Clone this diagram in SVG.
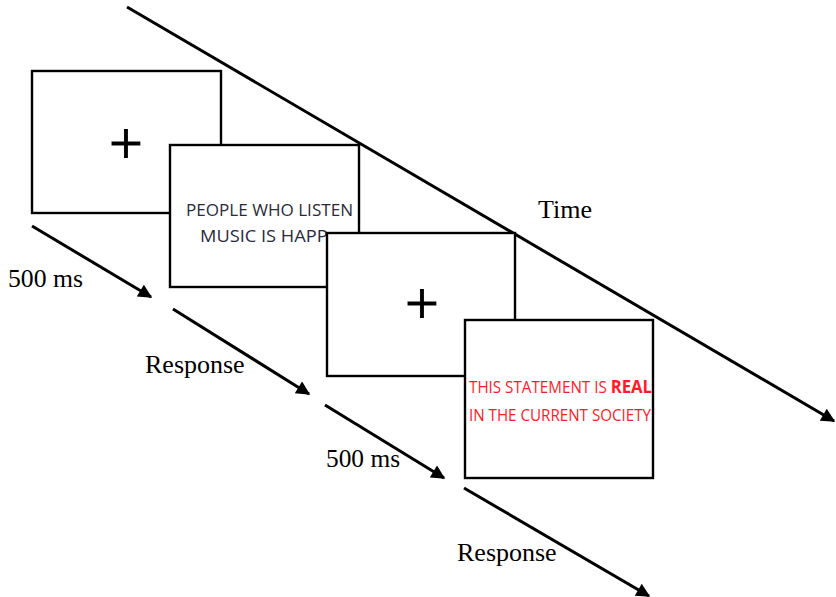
<svg xmlns="http://www.w3.org/2000/svg" width="836" height="597" viewBox="0 0 836 597">
  <style>
    .frame { fill: #ffffff; stroke: #000000; stroke-width: 2.4; }
    .flow { fill: none; stroke: #000000; stroke-width: 3; }
    .label { font-family: "Liberation Serif", "Times New Roman", serif; font-size: 26px; fill: #000000; }
    .cross { font-family: "Liberation Serif", "Times New Roman", serif; font-size: 60px; fill: #000000; stroke: #000000; stroke-width: 0.9; text-anchor: middle; }
    .stim { font-family: "Open Sans", "Liberation Sans", sans-serif; font-size: 16px; fill: #2a2a3a; }
    .stim-red { font-family: "Open Sans", "Liberation Sans", sans-serif; font-size: 15.5px; fill: #ff1a2a; }
  </style>
  <defs>
    <marker id="head" viewBox="0 0 10 10" refX="9" refY="5" markerWidth="5.5" markerHeight="4.6" orient="auto" markerUnits="strokeWidth">
      <path d="M0,0 L10,5 L0,10 z" fill="#000000"/>
    </marker>
    <!-- text area of the statement screen ends where the next screen starts -->
    <clipPath id="statementText">
      <rect x="171" y="146" width="156" height="140"/>
    </clipPath>
  </defs>

  <!-- time axis and step arrows -->
  <g id="connectors">
    <line class="flow" x1="127" y1="7" x2="834" y2="421" marker-end="url(#head)"/>
    <line class="flow" x1="32" y1="226" x2="151" y2="297" marker-end="url(#head)"/>
    <line class="flow" x1="173" y1="309" x2="309" y2="394" marker-end="url(#head)"/>
    <line class="flow" x1="325" y1="405" x2="444" y2="478" marker-end="url(#head)"/>
    <line class="flow" x1="464" y1="488" x2="649" y2="596" marker-end="url(#head)"/>
  </g>

  <!-- fixation screen -->
  <g id="fixation1">
    <rect class="frame" x="32" y="71" width="189" height="142"/>
    <text class="cross" x="126" y="163">+</text>
  </g>

  <!-- statement screen -->
  <g id="statement">
    <rect class="frame" x="170" y="145" width="189" height="142"/>
    <text class="stim" x="186" y="216" textLength="167" lengthAdjust="spacingAndGlyphs">PEOPLE WHO LISTEN</text>
    <text class="stim" x="200" y="242" textLength="138" lengthAdjust="spacingAndGlyphs" clip-path="url(#statementText)">MUSIC IS HAPPY</text>
  </g>

  <!-- second fixation screen -->
  <g id="fixation2">
    <rect class="frame" x="327" y="233" width="188" height="143"/>
    <text class="cross" x="422" y="323">+</text>
  </g>

  <!-- judgement screen -->
  <g id="judgement">
    <rect class="frame" x="465" y="320" width="188" height="158"/>
    <text class="stim-red" x="469" y="393" textLength="183" lengthAdjust="spacingAndGlyphs">THIS STATEMENT IS <tspan font-weight="bold" font-size="17px">REAL</tspan></text>
    <text class="stim-red" x="469" y="421" textLength="182" lengthAdjust="spacingAndGlyphs">IN THE CURRENT SOCIETY</text>
  </g>

  <g id="labels">
    <text class="label" x="538" y="218">Time</text>
    <text class="label" x="8" y="287" textLength="75" lengthAdjust="spacingAndGlyphs">500 ms</text>
    <text class="label" x="145" y="373">Response</text>
    <text class="label" x="326" y="467" textLength="74" lengthAdjust="spacingAndGlyphs">500 ms</text>
    <text class="label" x="457" y="561">Response</text>
  </g>
</svg>
